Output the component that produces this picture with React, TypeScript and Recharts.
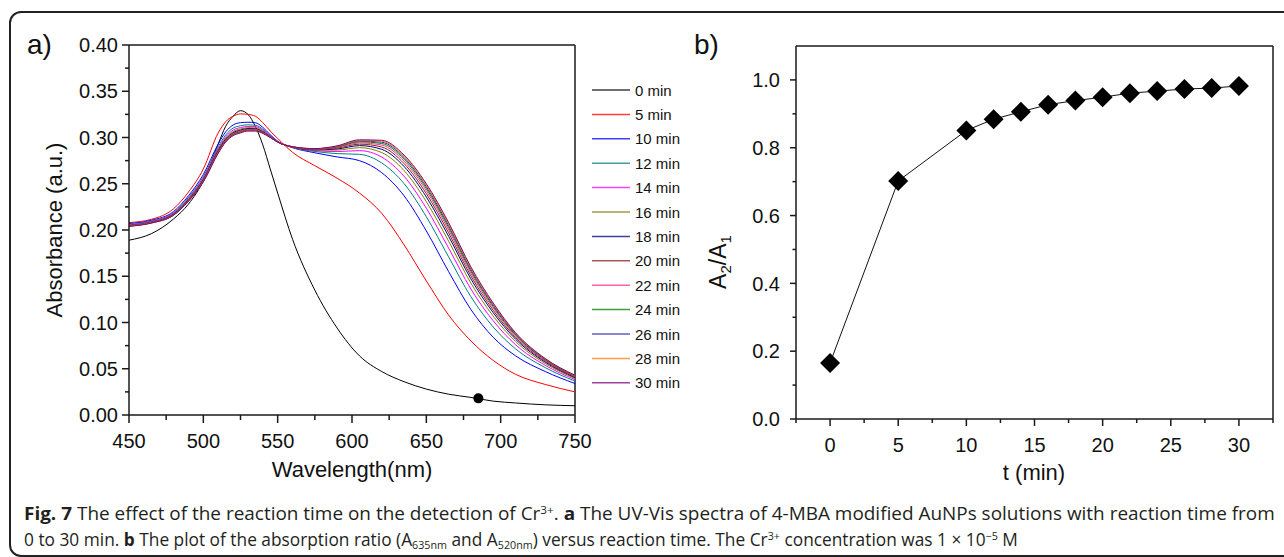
import React, { useLayoutEffect, useRef, useState } from "react";
import { LineChart, Line, XAxis, YAxis, ReferenceLine, ReferenceDot } from "recharts";

// ---- panel a: UV-Vis spectra ----
const wavelengths = [450, 465, 480, 490, 500, 510, 515, 520, 525, 530, 535, 540, 545, 550, 560, 575, 590, 605, 620, 635, 650, 665, 680, 695, 710, 730, 750];

const abs0 = [0.189, 0.196, 0.212, 0.228, 0.253, 0.293, 0.312, 0.323, 0.329, 0.325, 0.312, 0.292, 0.266, 0.24, 0.19, 0.135, 0.094, 0.064, 0.047, 0.036, 0.028, 0.0225, 0.019, 0.015, 0.013, 0.011, 0.01];
const abs5 = [0.208, 0.2115, 0.223, 0.241, 0.266, 0.305, 0.317, 0.323, 0.3255, 0.325, 0.323, 0.316, 0.307, 0.299, 0.284, 0.2695, 0.256, 0.24, 0.218, 0.184, 0.145, 0.108, 0.08, 0.059, 0.044, 0.033, 0.025];
const abs10 = [0.207, 0.2105, 0.22, 0.237, 0.26, 0.293, 0.306, 0.3135, 0.316, 0.3165, 0.316, 0.311, 0.303, 0.296, 0.289, 0.2835, 0.279, 0.275, 0.262, 0.237, 0.199, 0.155, 0.114, 0.084, 0.064, 0.047, 0.034];
const abs12 = [0.2061, 0.2096, 0.2188, 0.2352, 0.2576, 0.29, 0.3027, 0.3101, 0.3127, 0.3137, 0.3133, 0.3091, 0.3021, 0.2957, 0.2893, 0.2849, 0.2826, 0.2818, 0.2725, 0.2502, 0.2143, 0.1709, 0.1278, 0.0951, 0.0715, 0.0512, 0.0367];
const abs14 = [0.2056, 0.2091, 0.2181, 0.2341, 0.2562, 0.2882, 0.3007, 0.308, 0.3107, 0.3119, 0.3117, 0.3079, 0.3016, 0.2955, 0.2895, 0.2857, 0.2848, 0.2858, 0.2788, 0.2581, 0.2235, 0.1804, 0.1361, 0.1018, 0.076, 0.0537, 0.0383];
const abs16 = [0.2051, 0.2086, 0.2175, 0.2333, 0.255, 0.2868, 0.2992, 0.3064, 0.3092, 0.3106, 0.3104, 0.307, 0.3011, 0.2954, 0.2896, 0.2863, 0.2864, 0.289, 0.2837, 0.2643, 0.2306, 0.1879, 0.1425, 0.1069, 0.0795, 0.0557, 0.0396];
const abs18 = [0.2048, 0.2083, 0.2171, 0.2327, 0.2542, 0.2858, 0.2981, 0.3052, 0.3081, 0.3097, 0.3095, 0.3063, 0.3008, 0.2953, 0.2897, 0.2867, 0.2876, 0.2912, 0.2872, 0.2687, 0.2357, 0.1932, 0.1471, 0.1106, 0.082, 0.0571, 0.0405];
const abs20 = [0.2046, 0.2081, 0.2168, 0.2323, 0.2537, 0.2851, 0.2973, 0.3044, 0.3073, 0.309, 0.3089, 0.3059, 0.3006, 0.2952, 0.2898, 0.2871, 0.2885, 0.2928, 0.2897, 0.2718, 0.2393, 0.1969, 0.1503, 0.1132, 0.0838, 0.0581, 0.0411];
const abs22 = [0.2045, 0.208, 0.2166, 0.2319, 0.2532, 0.2845, 0.2967, 0.3037, 0.3067, 0.3084, 0.3084, 0.3055, 0.3005, 0.2952, 0.2899, 0.2873, 0.2892, 0.2941, 0.2918, 0.2744, 0.2424, 0.2001, 0.1531, 0.1155, 0.0853, 0.0589, 0.0417];
const abs24 = [0.2043, 0.2078, 0.2164, 0.2316, 0.2528, 0.284, 0.2961, 0.3032, 0.3061, 0.308, 0.3079, 0.3052, 0.3003, 0.2951, 0.2899, 0.2876, 0.2898, 0.2953, 0.2935, 0.2766, 0.2449, 0.2027, 0.1554, 0.1173, 0.0865, 0.0596, 0.0421];
const abs26 = [0.2042, 0.2077, 0.2162, 0.2314, 0.2525, 0.2836, 0.2957, 0.3027, 0.3057, 0.3076, 0.3075, 0.3049, 0.3002, 0.2951, 0.2899, 0.2877, 0.2903, 0.2962, 0.2949, 0.2784, 0.2469, 0.2048, 0.1572, 0.1188, 0.0875, 0.0602, 0.0425];
const abs28 = [0.2041, 0.2076, 0.2161, 0.2312, 0.2522, 0.2833, 0.2953, 0.3023, 0.3053, 0.3073, 0.3073, 0.3047, 0.3001, 0.295, 0.29, 0.2879, 0.2906, 0.2968, 0.296, 0.2797, 0.2485, 0.2064, 0.1586, 0.1199, 0.0883, 0.0606, 0.0427];
const abs30 = [0.204, 0.2075, 0.216, 0.231, 0.252, 0.283, 0.295, 0.302, 0.305, 0.307, 0.307, 0.3045, 0.3, 0.295, 0.29, 0.288, 0.291, 0.2975, 0.297, 0.281, 0.25, 0.208, 0.16, 0.121, 0.089, 0.061, 0.043];

const timeLabels = ["0 min", "5 min", "10 min", "12 min", "14 min", "16 min", "18 min", "20 min", "22 min", "24 min", "26 min", "28 min", "30 min"];
const lineColors = ["#000000", "#ff0000", "#0000ff", "#008080", "#ff00ff", "#808000", "#000080", "#8b2020", "#ff3090", "#008000", "#2b2bb0", "#ff8000", "#800080"];
const spectra = [abs0, abs5, abs10, abs12, abs14, abs16, abs18, abs20, abs22, abs24, abs26, abs28, abs30];

const markerPoint = { wl: 685, a: 0.018 };

const aXTicks = [450, 475, 500, 525, 550, 575, 600, 625, 650, 675, 700, 725, 750];
const aYTicks = [0, 0.025, 0.05, 0.075, 0.1, 0.125, 0.15, 0.175, 0.2, 0.225, 0.25, 0.275, 0.3, 0.325, 0.35, 0.375, 0.4];

// ---- panel b: absorption ratio ----
const tMin = [0, 5, 10, 12, 14, 16, 18, 20, 22, 24, 26, 28, 30];
const ratio = [0.165, 0.702, 0.851, 0.884, 0.906, 0.927, 0.939, 0.949, 0.961, 0.967, 0.973, 0.976, 0.982];

const bXTicks = [-2.5, 0, 2.5, 5, 7.5, 10, 12.5, 15, 17.5, 20, 22.5, 25, 27.5, 30, 32.5];
const bYTicks = [0, 0.1, 0.2, 0.3, 0.4, 0.5, 0.6, 0.7, 0.8, 0.9, 1.0];

const spectraTable = wavelengths.map((wl, i) => {
  const row: Record<string, number> = { wl };
  spectra.forEach((s, j) => {
    row[`s${j}`] = s[i];
  });
  return row;
});

const ratioTable = tMin.map((t, i) => ({ t, r: ratio[i] }));

const AXIS = "#1a1a1a";
const FONT = "'Liberation Sans', Arial, sans-serif";

const onStep = (v: number, step: number) => Math.abs(v / step - Math.round(v / step)) < 1e-6;

function makeXTick(step: number, fmt: (v: number) => string, major: number, minor: number, gap: number) {
  return (props: any) => {
    const { x, y, payload } = props;
    const isMajor = onStep(payload.value, step);
    return (
      <g>
        <line x1={x} y1={y} x2={x} y2={y + (isMajor ? major : minor)} stroke={AXIS} strokeWidth={1.5} />
        {isMajor && (
          <text x={x} y={y + gap} textAnchor="middle" fontSize={20} fontFamily={FONT} fill="#111">
            {fmt(payload.value)}
          </text>
        )}
      </g>
    );
  };
}

function makeYTick(step: number, fmt: (v: number) => string, major: number, minor: number, gap: number) {
  return (props: any) => {
    const { x, y, payload } = props;
    const isMajor = onStep(payload.value, step);
    return (
      <g>
        <line x1={x} y1={y} x2={x - (isMajor ? major : minor)} y2={y} stroke={AXIS} strokeWidth={1.5} />
        {isMajor && (
          <text x={x - gap} y={y} dy="0.36em" textAnchor="end" fontSize={20} fontFamily={FONT} fill="#111">
            {fmt(payload.value)}
          </text>
        )}
      </g>
    );
  };
}

function Diamond(props: any) {
  const { cx, cy, index } = props;
  if (cx == null || cy == null) return null;
  const h = 10;
  return <polygon key={index} points={`${cx},${cy - h} ${cx + h},${cy} ${cx},${cy + h} ${cx - h},${cy}`} fill="#000" />;
}

function SpectraChart() {
  return (
    <LineChart width={600} height={470} data={spectraTable} margin={{ top: 45, right: 25, bottom: 0, left: 0 }}>
      <XAxis
        type="number"
        dataKey="wl"
        domain={[450, 750]}
        ticks={aXTicks}
        interval={0}
        height={55}
        tickSize={0}
        tickMargin={0}
        tickLine={false}
        axisLine={{ stroke: AXIS, strokeWidth: 1.5 }}
        tick={makeXTick(50, (v) => String(v), 8, 5, 33)}
      />
      <YAxis
        type="number"
        domain={[0, 0.4]}
        ticks={aYTicks}
        interval={0}
        width={129}
        tickSize={0}
        tickMargin={0}
        tickLine={false}
        axisLine={{ stroke: AXIS, strokeWidth: 1.5 }}
        tick={makeYTick(0.05, (v) => v.toFixed(2), 7, 4, 11)}
      />
      <ReferenceLine y={0.4} stroke={AXIS} strokeWidth={1.5} />
      <ReferenceLine x={750} stroke={AXIS} strokeWidth={1.5} />
      {spectra.map((_, j) => (
        <Line
          key={j}
          type="monotone"
          dataKey={`s${j}`}
          stroke={lineColors[j]}
          strokeWidth={1}
          dot={false}
          activeDot={false}
          isAnimationActive={false}
        />
      ))}
      <ReferenceDot x={markerPoint.wl} y={markerPoint.a} r={5} fill="#000" stroke="none" />
    </LineChart>
  );
}

function RatioChart() {
  return (
    <LineChart width={604} height={474} data={ratioTable} margin={{ top: 46, right: 11, bottom: 0, left: 0 }}>
      <XAxis
        type="number"
        dataKey="t"
        domain={[-2.5, 32.5]}
        ticks={bXTicks}
        interval={0}
        height={55}
        tickSize={0}
        tickMargin={0}
        tickLine={false}
        axisLine={{ stroke: AXIS, strokeWidth: 1.5 }}
        tick={makeXTick(5, (v) => String(v), 7, 4, 33)}
      />
      <YAxis
        type="number"
        domain={[0, 1.1]}
        ticks={bYTicks}
        interval={0}
        width={116}
        tickSize={0}
        tickMargin={0}
        tickLine={false}
        axisLine={{ stroke: AXIS, strokeWidth: 1.5 }}
        tick={makeYTick(0.2, (v) => v.toFixed(1), 6, 3.5, 16)}
      />
      <ReferenceLine y={1.1} stroke={AXIS} strokeWidth={1.5} />
      <ReferenceLine x={32.5} stroke={AXIS} strokeWidth={1.5} />
      <Line
        type="linear"
        dataKey="r"
        stroke="#111"
        strokeWidth={1}
        dot={Diamond}
        activeDot={false}
        isAnimationActive={false}
      />
    </LineChart>
  );
}

function Overlay() {
  return (
    <svg width={1284} height={557} style={{ position: "absolute", left: 0, top: 0, pointerEvents: "none" }}>
      <g fontFamily={FONT} fill="#111">
        <text x={27} y={54} fontSize={28}>a)</text>
        <text x={694} y={54} fontSize={28}>b)</text>
        <text transform="translate(62,230) rotate(-90)" textAnchor="middle" fontSize={22}>
          Absorbance (a.u.)
        </text>
        <text x={352} y={477} textAnchor="middle" fontSize={22}>
          Wavelength(nm)
        </text>
        <text x={1034} y={480} textAnchor="middle" fontSize={22}>
          t (min)
        </text>
        <text transform="translate(726,262) rotate(-90)" textAnchor="middle" fontSize={23}>
          A<tspan fontSize={15} dy={5}>2</tspan>
          <tspan dy={-5}>/A</tspan>
          <tspan fontSize={15} dy={5}>1</tspan>
        </text>
      </g>
      {/* legend */}
      <g fontFamily={FONT}>
        {timeLabels.map((lab, i) => {
          const y = 90 + i * 24.4;
          return (
            <g key={lab}>
              <line x1={592} x2={630} y1={y} y2={y} stroke={lineColors[i]} strokeWidth={1.5} opacity={0.75} />
              <text x={635} y={y + 5.5} fontSize={15} fill="#111">
                {lab}
              </text>
            </g>
          );
        })}
      </g>
    </svg>
  );
}

// caption line squeezed horizontally to the width it has in the figure
function CaptionLine({ target, top, children }: { target: number; top: number; children: React.ReactNode }) {
  const ref = useRef<HTMLDivElement>(null);
  const [k, setK] = useState(1);
  useLayoutEffect(() => {
    if (ref.current) setK(target / ref.current.offsetWidth);
  }, [target]);
  return (
    <div
      ref={ref}
      style={{
        position: "absolute",
        left: 24,
        top,
        width: "max-content",
        whiteSpace: "nowrap",
        fontFamily: "'Open Sans', 'Noto Sans', sans-serif",
        fontSize: 18,
        lineHeight: "22px",
        color: "#231f20",
        transform: `scaleX(${k})`,
        transformOrigin: "left top",
      }}
    >
      {children}
    </div>
  );
}

const supStyle: React.CSSProperties = { fontSize: "0.62em", lineHeight: 0, verticalAlign: "0.55em" };
const subStyle: React.CSSProperties = { fontSize: "0.62em", lineHeight: 0, verticalAlign: "-0.3em" };

export default function App() {
  return (
    <div
      style={{
        position: "fixed",
        left: 0,
        top: 0,
        width: 1284,
        height: 557,
        overflow: "hidden",
        background: "#fff",
      }}
    >
      <div
        style={{
          position: "absolute",
          left: 9,
          top: 11,
          width: 1320,
          height: 542,
          border: "2px solid #222",
          borderRadius: 12,
        }}
      />
      <div style={{ position: "absolute", left: 0, top: 0 }}>
        <SpectraChart />
      </div>
      <div style={{ position: "absolute", left: 680, top: 0 }}>
        <RatioChart />
      </div>
      <Overlay />
      <CaptionLine target={1251} top={502}>
        <b>Fig. 7</b> The effect of the reaction time on the detection of Cr<span style={supStyle}>3+</span>.{" "}
        <b>a</b> The UV-Vis spectra of 4-MBA modified AuNPs solutions with reaction time from
      </CaptionLine>
      <CaptionLine target={994} top={528}>
        0 to 30 min. <b>b</b> The plot of the absorption ratio (A<span style={subStyle}>635nm</span> and A
        <span style={subStyle}>520nm</span>) versus reaction time. The Cr<span style={supStyle}>3+</span> concentration
        was 1 × 10<span style={supStyle}>−5</span> M
      </CaptionLine>
    </div>
  );
}
